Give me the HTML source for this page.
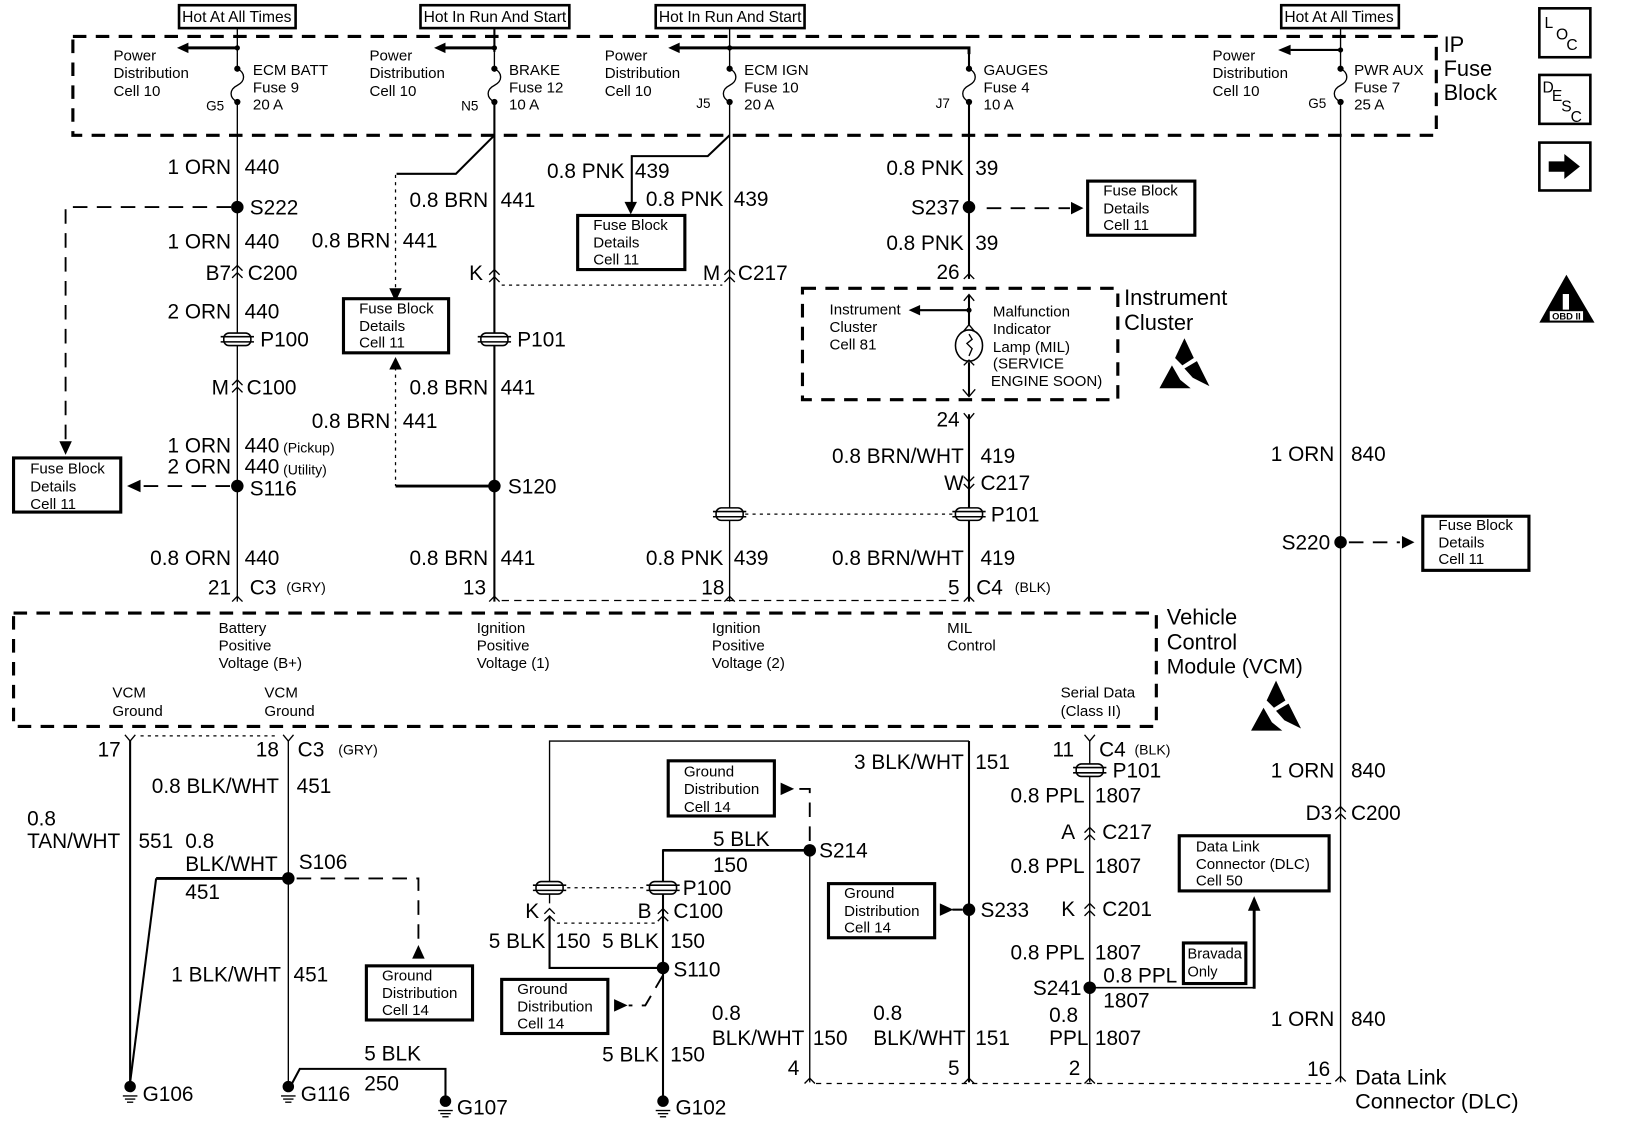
<!DOCTYPE html>
<html><head><meta charset="utf-8"><style>
html,body{margin:0;padding:0;background:#fff;width:1632px;height:1138px;overflow:hidden}
svg{display:block}
text{font-family:"Liberation Sans",sans-serif;fill:#000}
.w text,text.w{font-size:20px}
.s text,text.s{font-size:14.5px}
.b text,text.b{font-size:21px}
.e{text-anchor:end}
line,path,polyline,rect,ellipse{fill:none;stroke:#000}
.t{stroke-width:1.3}.m{stroke-width:2}.k{stroke-width:2.8}
.d{stroke-width:1.8;stroke-dasharray:14 9}
.dd{stroke-width:3;stroke-dasharray:13 9}
.o{stroke-width:1.2;stroke-dasharray:3 4}
.bx{stroke-width:3;fill:#fff}
.f{fill:#000;stroke:none}
</style></head><body>
<svg width="1632" height="1138" viewBox="0 0 1568 1093.4" xmlns="http://www.w3.org/2000/svg">
<defs>
<g id="c"><polyline class="t" points="-5,5 0,0 5,5"/></g>
<g id="cc"><polyline class="t" points="-5,-2 0,-7 5,-2"/><polyline class="t" points="-5,5 0,0 5,5"/></g>
<g id="vv"><polyline class="t" points="-5,-5 0,0 5,-5"/><polyline class="t" points="-5,2 0,7 5,2"/></g>
<g id="y"><polyline class="t" points="-5,-6 0,0 5,-6"/></g>
<g id="p"><rect x="-13" y="-6" width="26" height="12" rx="5" style="fill:#fff;stroke-width:1.5"/><line x1="-16" x2="16" y1="-2.5" y2="-2.5" style="stroke-width:1.5"/><line x1="-16" x2="16" y1="2.5" y2="2.5" style="stroke-width:1.5"/></g>
<g id="fu"><path class="t" d="M0,-16 C8,-12 8,-4 0,0 C-8,4 -8,12 0,16"/><circle cy="-16" r="3" class="f"/><circle cy="16" r="3" class="f"/></g>
<g id="gr"><circle r="5.5" class="f"/><line x1="-7" x2="7" y1="9" y2="9" class="t"/><line x1="-5" x2="5" y1="12" y2="12" class="t"/><line x1="-3" x2="3" y1="15" y2="15" class="t"/></g>
<g id="esd"><polygon class="f" points="0,-24 9,-5 -2,2 -9,-5"/><polygon class="f" points="-24,24 -12,2 -4,16 6,24"/><polygon class="f" points="12,-2 24,22 8,14 0,5"/></g>
</defs>

<!-- dashed module boxes -->
<rect class="dd" x="70" y="35" width="1310" height="95"/>
<rect class="dd" x="13" y="589" width="1098" height="109"/>
<rect class="dd" x="771" y="277" width="303" height="107"/>

<!-- top labels -->
<g>
<rect class="bx" style="stroke-width:2.5" x="172" y="5" width="112" height="22"/><text x="175" y="21" style="font-size:15px">Hot At All Times</text>
<rect class="bx" style="stroke-width:2.5" x="404" y="5" width="143" height="22"/><text x="407" y="21" style="font-size:15px" textLength="137">Hot In Run And Start</text>
<rect class="bx" style="stroke-width:2.5" x="630" y="5" width="143" height="22"/><text x="633" y="21" style="font-size:15px" textLength="137">Hot In Run And Start</text>
<rect class="bx" style="stroke-width:2.5" x="1231" y="5" width="113" height="22"/><text x="1234" y="21" style="font-size:15px">Hot At All Times</text>
</g>

<!-- main verticals -->
<line class="t" x1="228" y1="27" x2="228" y2="50"/><line class="t" x1="228" y1="98" x2="228" y2="578"/>
<line class="m" x1="475" y1="27" x2="475" y2="50"/><line class="m" x1="475" y1="98" x2="475" y2="578"/>
<line class="t" x1="701" y1="27" x2="701" y2="50"/><line class="t" x1="701" y1="98" x2="701" y2="578"/>
<line class="m" x1="931" y1="45" x2="931" y2="50"/><line class="m" x1="931" y1="98" x2="931" y2="268"/>
<line class="m" x1="931" y1="398" x2="931" y2="578"/>
<line class="t" x1="1288" y1="27" x2="1288" y2="50"/><line class="t" x1="1288" y1="98" x2="1288" y2="1040"/>
<line class="t" x1="228" y1="50" x2="228" y2="66"/><line class="t" x1="475" y1="50" x2="475" y2="66"/><line class="t" x1="701" y1="50" x2="701" y2="66"/><line class="m" x1="931" y1="50" x2="931" y2="66"/><line class="t" x1="1288" y1="50" x2="1288" y2="66"/>
<use href="#fu" x="228" y="82"/><use href="#fu" x="475" y="82"/><use href="#fu" x="701" y="82"/><use href="#fu" x="931" y="82"/><use href="#fu" x="1288" y="82"/>

<!-- power dist arrows -->
<line class="k" x1="228" y1="46" x2="180" y2="46"/><polygon class="f" points="170,46 181,41 181,51"/><circle class="f" cx="228" cy="46" r="2.5"/>
<line class="k" x1="475" y1="46" x2="427" y2="46"/><polygon class="f" points="417,46 428,41 428,51"/><circle class="f" cx="475" cy="46" r="2.5"/>
<polyline class="k" points="652,46 931,46 931,52"/><polygon class="f" points="642,46 653,41 653,51"/><circle class="f" cx="701" cy="46" r="2.5"/>
<line class="m" x1="1288" y1="48" x2="1240" y2="48"/><polygon class="f" points="1228,48 1240,43 1240,53"/><circle class="f" cx="1288" cy="48" r="2.5"/>

<g class="s">
<text x="109" y="58">Power</text><text x="109" y="75">Distribution</text><text x="109" y="92">Cell 10</text>
<text x="355" y="58">Power</text><text x="355" y="75">Distribution</text><text x="355" y="92">Cell 10</text>
<text x="581" y="58">Power</text><text x="581" y="75">Distribution</text><text x="581" y="92">Cell 10</text>
<text x="1165" y="58">Power</text><text x="1165" y="75">Distribution</text><text x="1165" y="92">Cell 10</text>
<text x="243" y="72">ECM BATT</text><text x="243" y="89">Fuse 9</text><text x="243" y="105">20 A</text>
<text x="489" y="72">BRAKE</text><text x="489" y="89">Fuse 12</text><text x="489" y="105">10 A</text>
<text x="715" y="72">ECM IGN</text><text x="715" y="89">Fuse 10</text><text x="715" y="105">20 A</text>
<text x="945" y="72">GAUGES</text><text x="945" y="89">Fuse 4</text><text x="945" y="105">10 A</text>
<text x="1301" y="72">PWR AUX</text><text x="1301" y="89">Fuse 7</text><text x="1301" y="105">25 A</text>
<text x="198" y="106" style="font-size:13px">G5</text><text x="443" y="106" style="font-size:13px">N5</text><text x="669" y="104" style="font-size:13px">J5</text><text x="899" y="104" style="font-size:13px">J7</text><text x="1257" y="104" style="font-size:13px">G5</text>
</g>
<g class="b"><text x="1387" y="50">IP</text><text x="1387" y="73">Fuse</text><text x="1387" y="96">Block</text></g>

<!-- column A -->
<g class="w">
<text class="e" x="222" y="167">1 ORN</text><text x="235" y="167">440</text>
<text x="240" y="206">S222</text>
<text class="e" x="222" y="239">1 ORN</text><text x="235" y="239">440</text>
<text class="e" x="222" y="269">B7</text><text x="238" y="269">C200</text>
<text class="e" x="222" y="306">2 ORN</text><text x="235" y="306">440</text>
<text x="250" y="333">P100</text>
<text class="e" x="220" y="379">M</text><text x="237" y="379">C100</text>
<text class="e" x="222" y="435">1 ORN</text><text x="235" y="435">440</text>
<text class="e" x="222" y="455">2 ORN</text><text x="235" y="455">440</text>
<text x="240" y="476">S116</text>
<text class="e" x="222" y="543">0.8 ORN</text><text x="235" y="543">440</text>
<text class="e" x="222" y="571">21</text><text x="240" y="571">C3</text>
</g>
<g style="font-size:13.5px"><text x="272" y="435">(Pickup)</text><text x="272" y="456">(Utility)</text><text x="275" y="569">(GRY)</text><text x="975" y="569">(BLK)</text><text x="325" y="725">(GRY)</text><text x="1090" y="725">(BLK)</text></g>
<circle class="f" cx="228" cy="199" r="6"/><circle class="f" cx="228" cy="467" r="6"/>
<polyline class="d" points="222,199 63,199 63,428"/><polygon class="f" points="63,437 57,424 69,424"/>
<line class="d" x1="221" y1="467" x2="135" y2="467"/><polygon class="f" points="122,467 135,461 135,473"/>
<use href="#cc" x="228" y="262"/><use href="#p" x="228" y="326"/><use href="#cc" x="228" y="372"/><use href="#c" x="228" y="573"/>

<!-- column B -->
<polyline class="m" points="475,130 438,167 381,167"/>
<line class="o" x1="380" y1="168" x2="380" y2="280"/><polygon class="f" points="380,290 374,277 386,277"/>
<line class="o" x1="380" y1="353" x2="380" y2="467"/><polygon class="f" points="380,343 374,355 386,355"/>
<line class="k" x1="380" y1="467" x2="475" y2="467"/><circle class="f" cx="475" cy="467" r="6"/>
<g class="w">
<text class="e" x="469" y="199">0.8 BRN</text><text x="481" y="199">441</text>
<text class="e" x="375" y="238">0.8 BRN</text><text x="387" y="238">441</text>
<text class="e" x="464" y="269">K</text>
<text x="497" y="333">P101</text>
<text class="e" x="469" y="379">0.8 BRN</text><text x="481" y="379">441</text>
<text class="e" x="375" y="411">0.8 BRN</text><text x="387" y="411">441</text>
<text x="488" y="474">S120</text>
<text class="e" x="469" y="543">0.8 BRN</text><text x="481" y="543">441</text>
<text class="e" x="467" y="571">13</text>
</g>
<use href="#cc" x="475" y="266"/><use href="#p" x="475" y="326"/><use href="#c" x="475" y="573"/>
<line class="o" x1="482" y1="274" x2="694" y2="274"/>

<!-- column C -->
<polyline class="m" points="701,130 680,150 607,150 607,195"/><polygon class="f" points="606,206 600,194 612,194"/>
<g class="w">
<text class="e" x="600" y="171">0.8 PNK</text><text x="610" y="171">439</text>
<text class="e" x="695" y="198">0.8 PNK</text><text x="705" y="198">439</text>
<text class="e" x="692" y="269">M</text><text x="709" y="269">C217</text>
<text class="e" x="695" y="543">0.8 PNK</text><text x="705" y="543">439</text>
<text class="e" x="696" y="571">18</text>
</g>
<use href="#cc" x="701" y="266"/><use href="#p" x="701" y="494"/><use href="#c" x="701" y="573"/>
<line class="o" x1="716" y1="494" x2="916" y2="494"/>
<line class="d" style="stroke-width:1.2;stroke-dasharray:7 5" x1="482" y1="577" x2="925" y2="577"/>

<!-- column D -->
<circle class="f" cx="931" cy="199" r="6"/>
<line class="d" x1="948" y1="200" x2="1028" y2="200"/><polygon class="f" points="1041,200 1029,194 1029,206"/>
<g class="w">
<text class="e" x="926" y="168">0.8 PNK</text><text x="937" y="168">39</text>
<text class="e" x="922" y="206">S237</text>
<text class="e" x="926" y="240">0.8 PNK</text><text x="937" y="240">39</text>
<text class="e" x="922" y="268">26</text>
<text class="e" x="922" y="410">24</text>
<text class="e" x="926" y="445">0.8 BRN/WHT</text><text x="942" y="445">419</text>
<text class="e" x="926" y="471">W</text><text x="942" y="471">C217</text>
<text x="952" y="501">P101</text>
<text class="e" x="926" y="543">0.8 BRN/WHT</text><text x="942" y="543">419</text>
<text class="e" x="922" y="571">5</text><text x="938" y="571">C4</text>
</g>
<use href="#c" x="931" y="263"/><use href="#y" x="931" y="403"/><use href="#vv" x="931" y="463"/><use href="#p" x="931" y="494"/><use href="#c" x="931" y="573"/>
<!-- cluster -->
<line class="m" x1="931" y1="283" x2="931" y2="312"/><polyline class="t" points="926,289 931,283 936,289"/><polyline class="t" points="926,318 931,312 936,318"/>
<line class="m" x1="931" y1="298" x2="883" y2="298"/><polygon class="f" points="873,298 884,293 884,303"/><circle class="f" cx="931" cy="298" r="2.5"/>
<ellipse cx="931" cy="332" rx="13" ry="15" style="stroke-width:1.5"/><path class="t" d="M931,321 l3,5 l-5,4 l5,5 l-3,7"/>
<line class="m" x1="931" y1="348" x2="931" y2="380"/><polyline class="t" points="926,351 931,346 936,351"/><polyline class="t" points="925,374 931,381 937,374"/>
<g class="s">
<text x="797" y="302">Instrument</text><text x="797" y="319">Cluster</text><text x="797" y="336">Cell 81</text>
<text x="954" y="304">Malfunction</text><text x="954" y="321">Indicator</text><text x="954" y="338">Lamp (MIL)</text><text x="954" y="354">(SERVICE</text><text x="952" y="371">ENGINE SOON)</text>
</g>
<g class="b"><text x="1080" y="293">Instrument</text><text x="1080" y="317">Cluster</text></g>
<use href="#esd" x="1138" y="349"/>

<!-- column E -->
<circle class="f" cx="1288" cy="521" r="6"/>
<line class="d" x1="1296" y1="521" x2="1345" y2="521"/><polygon class="f" points="1359,521 1347,515 1347,527"/>
<g class="w">
<text class="e" x="1282" y="443">1 ORN</text><text x="1298" y="443">840</text>
<text class="e" x="1278" y="528">S220</text>
<text class="e" x="1282" y="747">1 ORN</text><text x="1298" y="747">840</text>
<text class="e" x="1280" y="788">D3</text><text x="1298" y="788">C200</text>
<text class="e" x="1282" y="986">1 ORN</text><text x="1298" y="986">840</text>
<text class="e" x="1278" y="1034">16</text>
</g>
<use href="#cc" x="1288" y="782"/><use href="#c" x="1288" y="1034"/>
<text x="1302" y="1042" style="font-size:20.8px">Data Link</text><text x="1302" y="1065" style="font-size:20.8px">Connector (DLC)</text>

<!-- VCM labels -->
<g class="s">
<text x="210" y="608">Battery</text><text x="210" y="625">Positive</text><text x="210" y="642">Voltage (B+)</text>
<text x="458" y="608">Ignition</text><text x="458" y="625">Positive</text><text x="458" y="642">Voltage (1)</text>
<text x="684" y="608">Ignition</text><text x="684" y="625">Positive</text><text x="684" y="642">Voltage (2)</text>
<text x="910" y="608">MIL</text><text x="910" y="625">Control</text>
<text x="108" y="670">VCM</text><text x="108" y="688">Ground</text>
<text x="254" y="670">VCM</text><text x="254" y="688">Ground</text>
<text x="1019" y="670">Serial Data</text><text x="1019" y="688">(Class II)</text>
</g>
<g class="b"><text x="1121" y="600">Vehicle</text><text x="1121" y="624">Control</text><text x="1121" y="647" style="font-size:20.3px">Module (VCM)</text></g>
<use href="#esd" x="1226" y="678"/>

<!-- bottom left -->
<line class="m" x1="125" y1="712" x2="125" y2="1040"/><line class="t" x1="277" y1="712" x2="277" y2="1040"/>
<use href="#y" x="125" y="712"/><use href="#y" x="277" y="712"/>
<line class="o" x1="135" y1="707" x2="268" y2="707"/>
<polyline class="k" points="277,844 150,844"/><line class="m" x1="150" y1="844" x2="125" y2="1040"/>
<circle class="f" cx="277" cy="844" r="6"/>
<polyline class="d" points="285,844 402,844 402,910"/><polygon class="f" points="402,908 396,921 408,921"/>
<g class="w">
<text class="e" x="116" y="727">17</text><text class="e" x="268" y="727">18</text><text x="286" y="727">C3</text>
<text class="e" x="268" y="762">0.8 BLK/WHT</text><text x="285" y="762">451</text>
<text x="26" y="793">0.8</text><text x="26" y="815">TAN/WHT</text><text x="133" y="815">551</text>
<text x="178" y="815">0.8</text><text x="178" y="837">BLK/WHT</text><text x="178" y="864">451</text>
<text x="287" y="835">S106</text>
<text class="e" x="270" y="943">1 BLK/WHT</text><text x="282" y="943">451</text>
<text x="350" y="1019">5 BLK</text><text x="350" y="1048">250</text>
<text x="137" y="1058">G106</text><text x="289" y="1058">G116</text><text x="439" y="1071">G107</text><text x="649" y="1071">G102</text>
</g>
<use href="#gr" x="125" y="1044"/><use href="#gr" x="277" y="1044"/><use href="#gr" x="428" y="1058"/><use href="#gr" x="637" y="1058"/>
<polyline class="m" points="280,1042 288,1027 428,1027 428,1058"/>

<!-- bottom middle -->
<polyline class="t" points="528,868 528,712 931,712"/>
<polyline class="m" points="528,880 528,930 637,930"/>
<polyline class="m" points="637,1058 637,817 778,817"/>
<line class="m" style="stroke-width:2.5" x1="637" y1="817" x2="778" y2="817"/>
<line class="t" x1="778" y1="817" x2="778" y2="1040"/>
<line class="m" x1="931" y1="712" x2="931" y2="1040"/>
<circle class="f" cx="778" cy="817" r="6"/><circle class="f" cx="637" cy="930" r="6"/><circle class="f" cx="931" cy="874" r="6"/>
<use href="#p" x="528" y="853"/><use href="#p" x="637" y="853"/>
<line class="o" x1="545" y1="853" x2="620" y2="853"/>
<use href="#cc" x="528" y="880"/><use href="#cc" x="637" y="880"/>
<line class="o" x1="535" y1="887" x2="630" y2="887"/>
<polyline class="d" points="778,808 778,758 764,758"/><polygon class="f" points="750,752 763,758 750,764"/>
<polyline class="d" points="637,937 620,966 604,966"/><polygon class="f" points="590,960 603,966 590,972"/>
<polygon class="f" points="903,868 916,874 903,880"/><line class="m" x1="915" y1="874" x2="925" y2="874"/>
<line class="d" style="stroke-width:1.2;stroke-dasharray:5 5" x1="784" y1="1041" x2="1282" y2="1041"/>
<use href="#c" x="778" y="1036"/><use href="#c" x="931" y="1036"/><use href="#c" x="1047" y="1036"/>
<g class="w">
<text class="e" x="926" y="739">3 BLK/WHT</text><text x="937" y="739">151</text>
<text x="685" y="813">5 BLK</text><text x="685" y="838">150</text>
<text x="787" y="824">S214</text>
<text x="656" y="860">P100</text>
<text class="e" x="518" y="882">K</text><text class="e" x="626" y="882">B</text><text x="647" y="882">C100</text>
<text class="e" x="524" y="911">5 BLK</text><text x="534" y="911">150</text>
<text class="e" x="633" y="911">5 BLK</text><text x="644" y="911">150</text>
<text x="647" y="938">S110</text>
<text x="942" y="881">S233</text>
<text x="684" y="980">0.8</text><text x="684" y="1004">BLK/WHT</text><text x="781" y="1004">150</text>
<text x="839" y="980">0.8</text><text x="839" y="1004">BLK/WHT</text><text x="937" y="1004">151</text>
<text class="e" x="633" y="1020">5 BLK</text><text x="644" y="1020">150</text>
<text class="e" x="768" y="1033">4</text><text class="e" x="922" y="1033">5</text><text class="e" x="1038" y="1033">2</text>
</g>

<!-- PPL -->
<line class="t" x1="1047" y1="712" x2="1047" y2="1040"/><use href="#y" x="1047" y="712"/>
<use href="#p" x="1047" y="740"/><use href="#cc" x="1047" y="802"/><use href="#cc" x="1047" y="875"/>
<circle class="f" cx="1047" cy="949" r="6"/>
<line class="m" style="stroke-width:1.5" x1="1047" y1="949" x2="1205" y2="949"/><line class="k" x1="1205" y1="950" x2="1205" y2="872"/><polygon class="f" points="1205,861 1199,875 1211,875"/>
<g class="w">
<text class="e" x="1032" y="727">11</text><text x="1056" y="727">C4</text>
<text x="1069" y="747">P101</text>
<text class="e" x="1042" y="771">0.8 PPL</text><text x="1052" y="771">1807</text>
<text class="e" x="1033" y="806">A</text><text x="1059" y="806">C217</text>
<text class="e" x="1042" y="839">0.8 PPL</text><text x="1052" y="839">1807</text>
<text class="e" x="1033" y="880">K</text><text x="1059" y="880">C201</text>
<text class="e" x="1042" y="922">0.8 PPL</text><text x="1052" y="922">1807</text>
<text class="e" x="1039" y="956">S241</text>
<text x="1060" y="944">0.8 PPL</text><text x="1060" y="968">1807</text>
<text x="1008" y="982">0.8</text><text x="1008" y="1004">PPL</text><text x="1052" y="1004">1807</text>
</g>

<!-- boxes -->
<rect class="bx" x="13" y="440" width="103" height="52"/>
<rect class="bx" x="330" y="287" width="101" height="52"/>
<rect class="bx" x="555" y="207" width="103" height="52"/>
<rect class="bx" x="1045" y="174" width="103" height="52"/>
<rect class="bx" x="1367" y="496" width="102" height="52"/>
<rect class="bx" x="352" y="928" width="102" height="52"/>
<rect class="bx" x="642" y="731" width="102" height="53"/>
<rect class="bx" x="796" y="849" width="102" height="52"/>
<rect class="bx" x="482" y="941" width="102" height="52"/>
<rect class="bx" x="1133" y="803" width="144" height="53"/>
<rect class="bx" x="1137" y="906" width="60" height="39"/>
<g class="s">
<text x="29" y="455">Fuse Block</text><text x="29" y="472">Details</text><text x="29" y="489">Cell 11</text>
<text x="345" y="301">Fuse Block</text><text x="345" y="318">Details</text><text x="345" y="334">Cell 11</text>
<text x="570" y="221">Fuse Block</text><text x="570" y="238">Details</text><text x="570" y="254">Cell 11</text>
<text x="1060" y="188">Fuse Block</text><text x="1060" y="205">Details</text><text x="1060" y="221">Cell 11</text>
<text x="1382" y="509">Fuse Block</text><text x="1382" y="526">Details</text><text x="1382" y="542">Cell 11</text>
<text x="367" y="942">Ground</text><text x="367" y="959">Distribution</text><text x="367" y="975">Cell 14</text>
<text x="657" y="746">Ground</text><text x="657" y="763">Distribution</text><text x="657" y="780">Cell 14</text>
<text x="811" y="863">Ground</text><text x="811" y="880">Distribution</text><text x="811" y="896">Cell 14</text>
<text x="497" y="955">Ground</text><text x="497" y="972">Distribution</text><text x="497" y="988">Cell 14</text>
<text x="1149" y="818">Data Link</text><text x="1149" y="835">Connector (DLC)</text><text x="1149" y="851">Cell 50</text>
<text x="1141" y="921" style="font-size:14px">Bravada</text><text x="1141" y="938" style="font-size:14px">Only</text>
</g>

<!-- right icons -->
<rect x="1479" y="8" width="49" height="47" style="stroke-width:2.5"/>
<text x="1484" y="27" style="font-size:15px">L</text><text x="1495" y="38" style="font-size:15px">O</text><text x="1505" y="48" style="font-size:15px">C</text>
<rect x="1479" y="72" width="49" height="47" style="stroke-width:2.5"/>
<text x="1482" y="89" style="font-size:15px">D</text><text x="1491" y="97" style="font-size:15px">E</text><text x="1500" y="107" style="font-size:15px">S</text><text x="1509" y="117" style="font-size:15px">C</text>
<rect x="1479" y="137" width="49" height="46" style="stroke-width:2.5"/>
<polygon class="f" points="1488,155 1503,155 1503,148 1518,160 1503,172 1503,165 1488,165"/>
<polygon class="f" points="1505,264 1532,310 1479,310"/>
<rect x="1501" y="282" width="7" height="16" style="fill:#fff;stroke-width:1"/>
<rect x="1489" y="299" width="32" height="9" style="fill:#fff;stroke:none"/>
<text x="1505" y="307" text-anchor="middle" style="font-size:9px;font-weight:bold">OBD II</text>
</svg>
</body></html>
